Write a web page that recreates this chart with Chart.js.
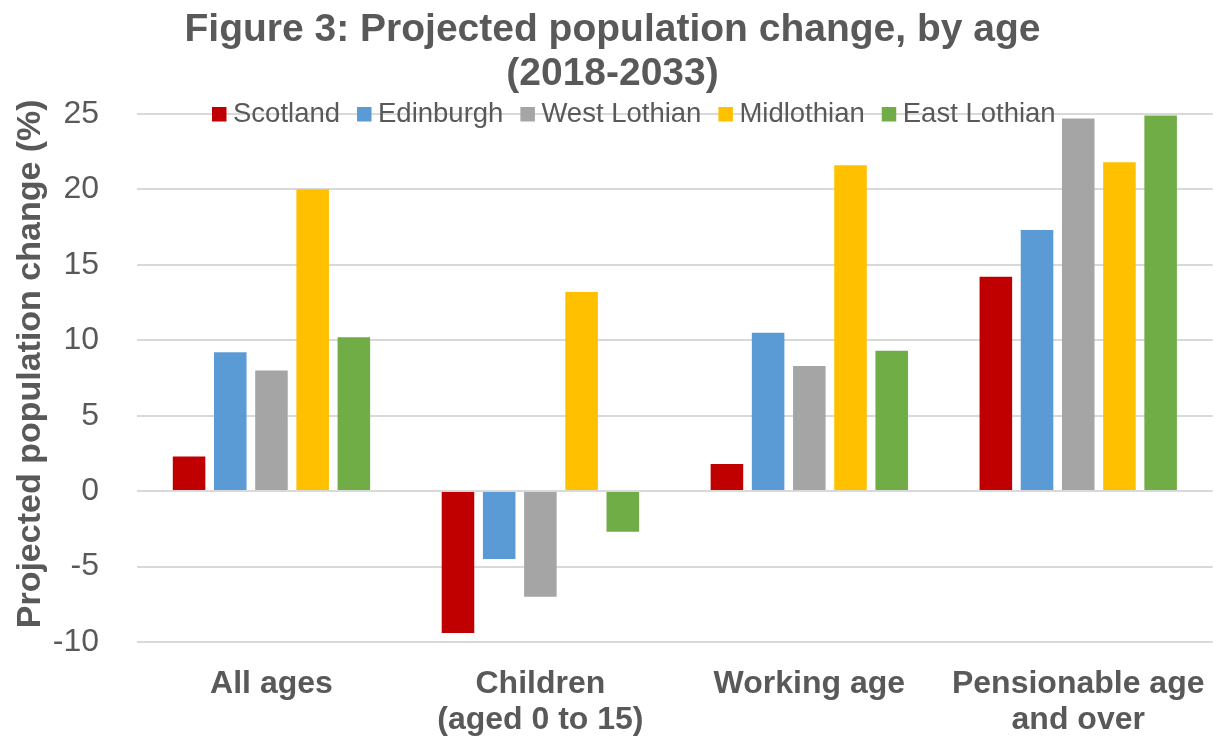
<!DOCTYPE html>
<html>
<head>
<meta charset="utf-8">
<script src="https://cdn.jsdelivr.net/npm/chart.js@4.4.1/dist/chart.umd.min.js"></script>
<style>
  html, body { margin: 0; padding: 0; background: #ffffff; }
  #wrap { width: 1229px; height: 738px; }
</style>
</head>
<body>
<div id="wrap"><canvas id="popChart" width="1229" height="738"></canvas></div>
<script>
const categories = [["All ages"], ["Children", "(aged 0 to 15)"], ["Working age"], ["Pensionable age", "and over"]];
const seriesNames = ["Scotland", "Edinburgh", "West Lothian", "Midlothian", "East Lothian"];
const scotland = [2.3, -9.4, 1.8, 14.2];
const edinburgh = [9.2, -4.5, 10.5, 17.3];
const westLothian = [8.0, -7.0, 8.3, 24.7];
const midlothian = [20.0, 13.2, 21.6, 21.8];
const eastLothian = [10.2, -2.7, 9.3, 24.9];
const colours = ["#c00000", "#5b9bd5", "#a5a5a5", "#ffc000", "#70ad47"];

const textGrey = "#595959";
Chart.defaults.font.family = "'Liberation Sans', Arial, sans-serif";
Chart.defaults.color = textGrey;

// legend sits inside the plot area, over the top gridline
const insideLegend = {
  id: "insideLegend",
  afterDatasetsDraw(chart) {
    const ctx = chart.ctx;
    ctx.save();
    ctx.font = "27.5px 'Liberation Sans', Arial, sans-serif";
    ctx.textBaseline = "middle";
    ctx.textAlign = "left";
    let x = 212;
    const y = 114;
    chart.data.datasets.forEach(ds => {
      ctx.fillStyle = ds.backgroundColor;
      ctx.fillRect(x, y - 7, 14.5, 14.5);
      x += 21;
      ctx.fillStyle = textGrey;
      ctx.fillText(ds.label, x, y);
      x += ctx.measureText(ds.label).width + 17;
    });
    ctx.restore();
  }
};

const allSeries = [scotland, edinburgh, westLothian, midlothian, eastLothian];

new Chart(document.getElementById("popChart"), {
  type: "bar",
  data: {
    labels: categories,
    datasets: allSeries.map((values, i) => ({
      label: seriesNames[i],
      data: values,
      backgroundColor: colours[i],
      borderWidth: 0,
      categoryPercentage: 0.766,
      barPercentage: 0.79
    }))
  },
  options: {
    responsive: false,
    devicePixelRatio: 1,
    animation: false,
    layout: { padding: { left: 0, right: 4, top: 0, bottom: 2 } },
    plugins: {
      legend: { display: false },
      tooltip: { enabled: false },
      title: {
        display: true,
        text: ["Figure 3: Projected population change, by age", "(2018-2033)"],
        color: textGrey,
        font: { size: 39, weight: "bold", lineHeight: 1.14 },
        padding: { top: 8, bottom: 17 }
      }
    },
    scales: {
      x: {
        afterFit: scale => { scale.height = 94; },
        grid: { display: false, drawTicks: false },
        border: { display: false },
        ticks: {
          color: textGrey,
          font: { size: 32, weight: "bold", lineHeight: 1.125 },
          padding: 24,
          maxRotation: 0,
          autoSkip: false
        }
      },
      y: {
        min: -10,
        max: 25,
        afterFit: scale => { scale.width = 137; },
        grid: { color: "#d9d9d9", lineWidth: 2, drawTicks: false },
        border: { display: false },
        ticks: {
          stepSize: 5,
          color: textGrey,
          font: { size: 32 },
          padding: 38
        },
        title: {
          display: true,
          // leading spaces nudge the rotated title up, as in the original
          text: "   Projected population change (%)",
          color: textGrey,
          font: { size: 34, weight: "bold" },
          padding: { top: 10, bottom: 0 }
        }
      }
    }
  },
  plugins: [insideLegend]
});
</script>
</body>
</html>
